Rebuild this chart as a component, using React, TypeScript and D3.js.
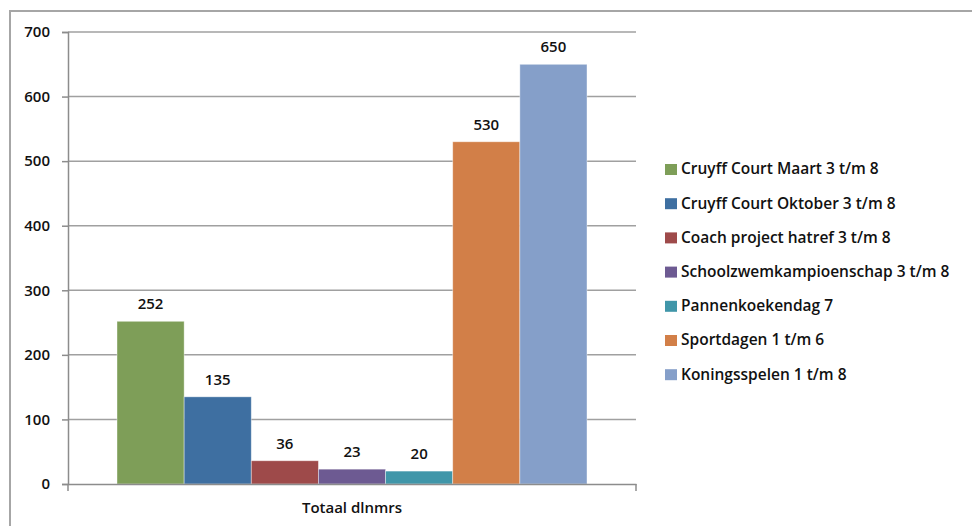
import * as d3 from "d3";
import { useEffect, useRef } from "react";

const seriesNames = [
  "Cruyff Court Maart 3 t/m 8",
  "Cruyff Court Oktober 3 t/m 8",
  "Coach project hatref 3 t/m 8",
  "Schoolzwemkampioenschap 3 t/m 8",
  "Pannenkoekendag 7",
  "Sportdagen 1 t/m 6",
  "Koningsspelen 1 t/m 8",
];
const seriesValues = [252, 135, 36, 23, 20, 530, 650];
const seriesColors = ["#7e9e58", "#3e6fa1", "#9e4a4a", "#6d5a92", "#4096a9", "#d27f48", "#859fc9"];
const category = "Totaal dlnmrs";
const yTicks = [0, 100, 200, 300, 400, 500, 600, 700];

const FONT = "'Open Sans', sans-serif";

export default function App() {
  const ref = useRef<SVGSVGElement>(null);

  useEffect(() => {
    if (!ref.current) return;
    const svg = d3.select(ref.current);
    svg.selectAll("*").remove();

    const width = 972;
    const height = 526;
    const plot = { left: 68, right: 636, top: 32, bottom: 484 };

    // outer chart border (runs off the right and bottom of the picture)
    svg.append("rect")
      .attr("x", 10).attr("y", 11)
      .attr("width", width + 20).attr("height", height + 20)
      .attr("fill", "white")
      .attr("stroke", "#a6a6a6")
      .attr("stroke-width", 2);

    const y = d3.scaleLinear().domain([0, 700]).range([plot.bottom, plot.top]);
    const outer = d3.scaleBand().domain([category]).range([plot.left, plot.right]);
    const x = d3.scaleBand()
      .domain(seriesNames)
      .range([outer(category)! + 49, outer(category)! + outer.bandwidth() - 49])
      .paddingInner(0);

    const g = svg.append("g");

    // gridlines
    g.selectAll("line.grid")
      .data(yTicks.filter(t => t > 0))
      .enter()
      .append("line")
      .attr("x1", plot.left).attr("x2", plot.right)
      .attr("y1", d => y(d)).attr("y2", d => y(d))
      .attr("stroke", "#a0a0a0")
      .attr("stroke-width", 1.5);

    // y axis
    const yAxis = g.append("g")
      .attr("transform", `translate(${plot.left},0)`)
      .call(d3.axisLeft(y).tickValues(yTicks).tickSize(6).tickPadding(12));
    yAxis.select(".domain").attr("stroke", "#8c8c8c").attr("stroke-width", 1.5);
    yAxis.selectAll(".tick line").attr("stroke", "#8c8c8c").attr("stroke-width", 1.5);
    yAxis.selectAll(".tick text")
      .attr("font-family", FONT)
      .attr("font-size", 15)
      .attr("font-weight", 600)
      .attr("fill", "#111");

    // bars
    g.selectAll("rect.bar")
      .data(seriesNames)
      .enter()
      .append("rect")
      .attr("x", d => x(d)!)
      .attr("width", x.bandwidth())
      .attr("y", (_, i) => y(seriesValues[i]))
      .attr("height", (_, i) => plot.bottom - y(seriesValues[i]))
      .attr("fill", (_, i) => seriesColors[i])
      .attr("stroke", "rgba(255,255,255,0.5)")
      .attr("stroke-width", 0.8);

    // value labels
    g.selectAll("text.val")
      .data(seriesNames)
      .enter()
      .append("text")
      .attr("x", d => x(d)! + x.bandwidth() / 2)
      .attr("y", (_, i) => y(seriesValues[i]) - 12)
      .attr("text-anchor", "middle")
      .attr("font-family", FONT)
      .attr("font-size", 15)
      .attr("font-weight", 600)
      .attr("fill", "#111")
      .text((_, i) => String(seriesValues[i]));

    // x axis
    const xAxis = g.append("g")
      .attr("transform", `translate(0,${plot.bottom})`)
      .call(d3.axisBottom(outer).tickSize(0).tickPadding(18));
    xAxis.select(".domain").attr("stroke", "#8c8c8c").attr("stroke-width", 1.5);
    xAxis.selectAll(".tick text")
      .attr("font-family", FONT)
      .attr("font-size", 15)
      .attr("font-weight", 600)
      .attr("fill", "#111");
    // category boundary ticks
    xAxis.selectAll("line.edge")
      .data(outer.range())
      .enter()
      .append("line")
      .attr("x1", d => d).attr("x2", d => d)
      .attr("y1", 0).attr("y2", 7)
      .attr("stroke", "#8c8c8c")
      .attr("stroke-width", 1.5);

    // legend
    const legend = svg.append("g").attr("transform", "translate(665,169)");
    const row = legend.selectAll("g")
      .data(seriesNames)
      .enter()
      .append("g")
      .attr("transform", (_, i) => `translate(0,${i * 34.2})`);
    row.append("rect")
      .attr("x", 0).attr("y", -5)
      .attr("width", 12).attr("height", 11)
      .attr("fill", (_, i) => seriesColors[i]);
    row.append("text")
      .attr("x", 16)
      .attr("y", 0)
      .attr("dy", "0.35em")
      .attr("font-family", FONT)
      .attr("font-size", 15.5)
      .attr("font-weight", 600)
      .attr("fill", "#111")
      .text(d => d);
  }, []);

  return (
    <svg
      ref={ref}
      width={972}
      height={526}
      style={{ position: "absolute", left: 0, top: 0, display: "block" }}
    />
  );
}
